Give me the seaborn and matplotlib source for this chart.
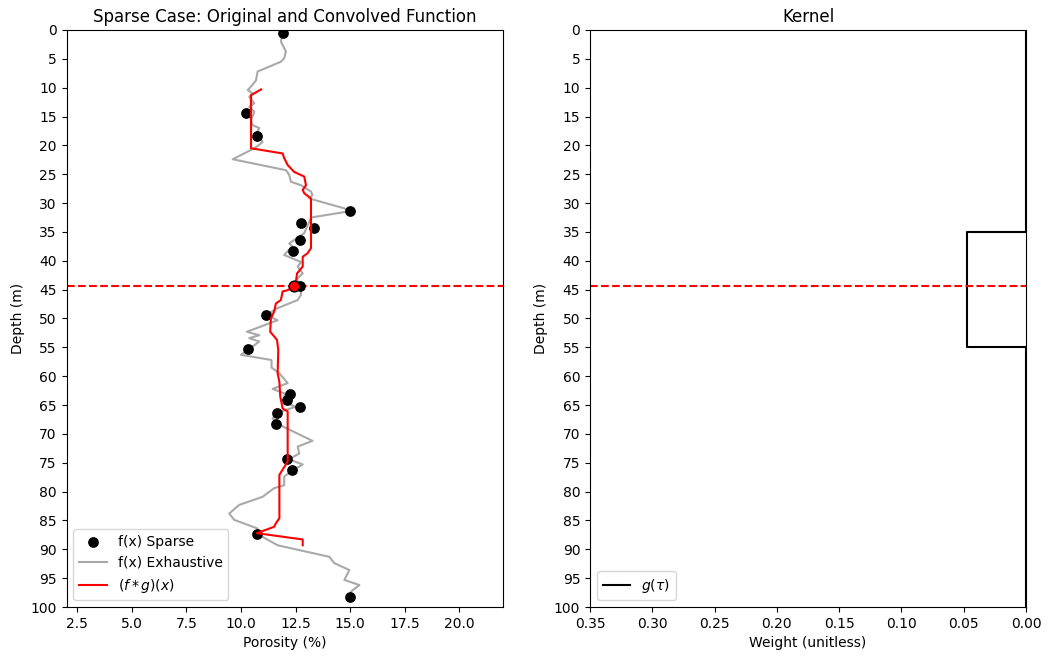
import numpy as np
import pandas as pd
import matplotlib
matplotlib.use("Agg")
import matplotlib.pyplot as plt
import seaborn as sns

# Dades llegides del gràfic -------------------------------------------------
# Mostres disperses (profunditat, porositat)
sparse_depth = [0.5, 14.4, 18.4, 31.3, 33.5, 34.4, 36.4, 38.3, 44.4, 49.4,
                55.3, 63.0, 64.2, 65.3, 66.3, 68.3, 74.4, 76.3, 87.3, 98.3]
sparse_por = [11.91, 10.23, 10.72, 15.0, 12.75, 13.36, 12.71, 12.40, 12.71, 11.15,
              10.33, 12.23, 12.11, 12.71, 11.65, 11.60, 12.11, 12.34, 10.73, 15.02]

# Funció exhaustiva
exh_depth = [0.5, 2.0, 3.75, 4.9, 5.5, 7.2, 8.7, 9.5, 10.4, 11.0, 11.6, 12.7, 13.3,
             14.2, 15.6, 16.5, 17.0, 18.0, 19.4, 19.9, 20.5, 22.4, 24.3, 25.1, 26.3,
             26.9, 28.0, 28.6, 29.2, 30.9, 31.4, 32.5, 33.5, 35.2, 37.0, 37.5, 39.0,
             39.6, 40.2, 41.0, 42.2, 43.2, 44.4, 45.9, 46.8, 48.2, 49.4, 50.3, 52.3,
             52.9, 53.4, 54.0, 56.3, 57.2, 58.5, 59.5, 61.2, 62.2, 63.0, 64.5, 65.3,
             66.3, 67.3, 68.5, 71.2, 72.2, 73.4, 74.4, 75.3, 76.5, 77.4, 78.9, 79.4,
             80.9, 82.3, 83.8, 84.9, 86.4, 87.3, 89.3, 91.3, 92.4, 93.6, 95.3, 96.2,
             97.3, 98.3]
exh_por = [11.91, 11.83, 12.06, 11.98, 11.83, 10.76, 10.69, 10.53, 10.31, 10.53, 10.38,
           10.61, 10.38, 10.61, 10.46, 10.53, 10.84, 10.70, 10.99, 10.84, 10.61, 9.62,
           12.06, 12.21, 12.29, 12.75, 13.21, 13.28, 13.13, 14.73, 15.0, 13.21, 13.10,
           12.90, 12.21, 12.35, 11.98, 12.36, 12.75, 12.60, 12.83, 12.55, 12.75, 12.75,
           12.60, 11.68, 11.15, 11.68, 10.27, 10.84, 10.38, 10.84, 10.00, 11.40, 11.40,
           11.76, 12.14, 11.45, 12.0, 12.0, 12.5, 11.70, 11.45, 11.80, 13.28, 12.60,
           12.67, 12.20, 12.83, 12.30, 11.98, 11.98, 11.52, 10.99, 9.92, 9.46, 9.69,
           10.76, 10.73, 11.68, 14.05, 14.28, 14.97, 14.74, 15.43, 15.05, 15.02]

# Funció convolucionada
conv_depth = [10.3, 11.3, 20.5, 21.4, 22.2, 23.4, 24.6, 25.4, 26.9, 27.7, 28.3, 29.2,
              37.8, 38.7, 39.3, 41.0, 42.2, 43.6, 44.4, 45.1, 45.3, 46.8, 47.4, 48.8,
              50.0, 52.3, 53.7, 55.5, 59.5, 61.0, 63.5, 65.6, 66.1, 74.8, 77.1, 84.6,
              85.5, 86.1, 87.2, 88.3, 89.3]
conv_por = [10.92, 10.46, 10.46, 11.91, 11.98, 12.14, 12.44, 12.90, 12.98, 12.83, 12.90,
            13.21, 13.21, 13.05, 12.83, 12.83, 12.57, 12.52, 12.44, 12.14, 11.91, 11.83,
            11.60, 11.52, 11.37, 11.34, 11.65, 11.71, 11.68, 11.76, 11.80, 11.91, 12.14,
            12.14, 11.76, 11.76, 11.60, 11.52, 10.73, 12.83, 12.83]

# Kernel (finestra de 35 a 55 m, pes 1/21)
kernel_depth = [0, 35, 35, 55, 55, 100]
kernel_weight = [0, 0, 1 / 21, 1 / 21, 0, 0]

# Posició actual (línia discontínua)
current_depth = 44.4
current_conv = 12.44

df_sparse = pd.DataFrame({"depth": sparse_depth, "por": sparse_por})
df_exh = pd.DataFrame({"depth": exh_depth, "por": exh_por})
df_conv = pd.DataFrame({"depth": conv_depth, "por": conv_por})
df_kernel = pd.DataFrame({"depth": kernel_depth, "w": kernel_weight})

# Figura ------------------------------------------------------------------
fig = plt.figure(figsize=(10.51, 6.59), dpi=100)
ax1 = fig.add_axes([0.0633, 0.0789, 0.415, 0.8756])
ax2 = fig.add_axes([0.5614, 0.0789, 0.4148, 0.8756])

sns.scatterplot(data=df_sparse, x="por", y="depth", color="black", s=60,
                edgecolor="black", linewidth=0, label="f(x) Sparse", ax=ax1,
                legend=False, zorder=2.5)
sns.lineplot(data=df_exh, x="por", y="depth", sort=False, estimator=None,
             color="darkgrey", linewidth=1.5, label="f(x) Exhaustive", ax=ax1, legend=False)
sns.lineplot(data=df_conv, x="por", y="depth", sort=False, estimator=None,
             color="red", linewidth=1.5, label=r"$(f * g)(x)$", ax=ax1, legend=False,
             zorder=3)
ax1.scatter([current_conv], [current_depth], s=60, color="red", edgecolor="black",
            linewidth=1, zorder=4, label="_nolegend_")
ax1.axhline(current_depth, color="red", linestyle="--", linewidth=1.5)

ax1.set_xlim(2.0, 22.0)
ax1.set_ylim(100, 0)
ax1.set_yticks(np.arange(0, 101, 5))
ax1.set_xlabel("Porosity (%)")
ax1.set_ylabel("Depth (m)")
ax1.set_title("Sparse Case: Original and Convolved Function")
ax1.legend(loc="lower left")

# Kernel
sns.lineplot(data=df_kernel, x="w", y="depth", sort=False, estimator=None,
             color="black", linewidth=1.5, label=r"$g(\tau)$", ax=ax2, legend=False)
ax2.axhline(current_depth, color="red", linestyle="--", linewidth=1.5)
ax2.set_xlim(0.35, 0.0)
ax2.set_ylim(100, 0)
ax2.set_yticks(np.arange(0, 101, 5))
ax2.set_xticks(np.arange(0, 0.351, 0.05))
ax2.set_xlabel("Weight (unitless)")
ax2.set_ylabel("Depth (m)")
ax2.set_title("Kernel")
ax2.legend(loc="lower left")

fig.savefig("out.png", dpi=100)
